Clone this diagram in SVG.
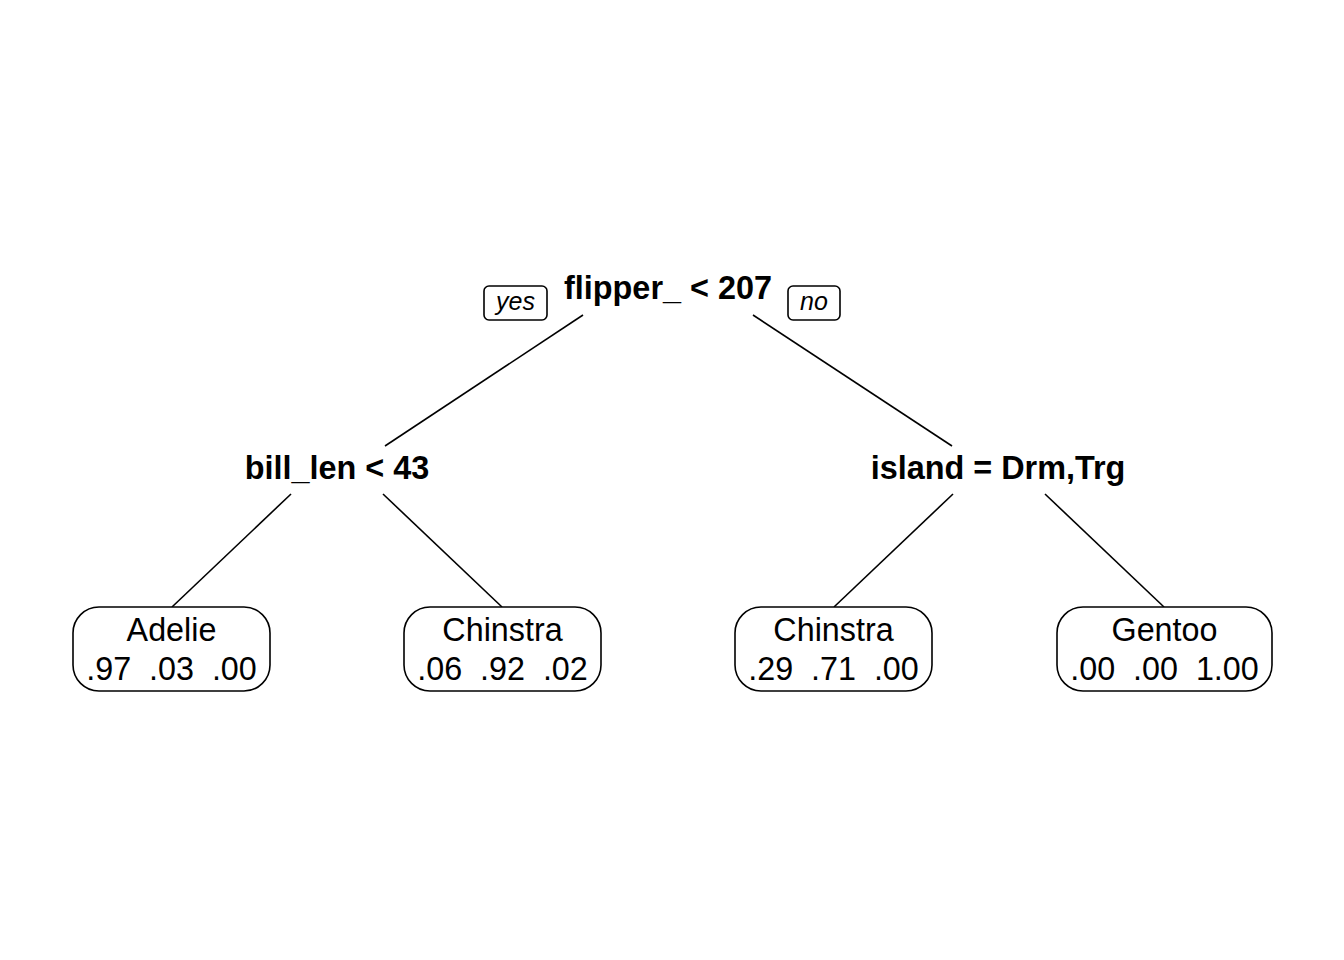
<svg xmlns="http://www.w3.org/2000/svg" width="1344" height="960" viewBox="0 0 1344 960">
<style>
.split{font-family:"Liberation Sans",Arial,sans-serif;font-weight:bold;font-size:32.4px;text-anchor:middle;fill:#000}
.leaf{font-family:"Liberation Sans",Arial,sans-serif;font-size:32.3px;text-anchor:middle;fill:#000;white-space:pre}
.lab{font-family:"Liberation Sans",Arial,sans-serif;font-style:italic;font-size:25px;text-anchor:middle;fill:#000}
.box{fill:#fff;stroke:#000;stroke-width:1.6}
.edge{stroke:#000;stroke-width:1.6;fill:none}
</style>
<rect width="1344" height="960" fill="#fff"/>
<g id="connectors">
<line class="edge" x1="583" y1="315" x2="385" y2="446"/>
<line class="edge" x1="753" y1="315" x2="952" y2="446"/>
<line class="edge" x1="291" y1="494" x2="172" y2="607"/>
<line class="edge" x1="383" y1="494" x2="502" y2="607"/>
<line class="edge" x1="953" y1="494" x2="834" y2="607"/>
<line class="edge" x1="1045" y1="494" x2="1164" y2="607"/>
</g>
<g id="root">
<text class="split" x="668" y="299">flipper_ &lt; 207</text>
<rect class="box" x="484" y="286" width="63" height="34" rx="5"/>
<text class="lab" x="515.5" y="310">yes</text>
<rect class="box" x="788" y="286" width="52" height="34" rx="5"/>
<text class="lab" x="814" y="310">no</text>
</g>
<g id="bill_len">
<text class="split" x="337" y="479">bill_len &lt; 43</text>
</g>
<g id="island">
<text class="split" x="998" y="479">island = Drm,Trg</text>
</g>
<g id="leaf_adelie">
<rect class="box" x="73" y="607" width="197" height="84" rx="26"/>
<text class="leaf" x="171.5" y="641">Adelie</text>
<text class="leaf" x="171.5" y="680" xml:space="preserve">.97  .03  .00</text>
</g>
<g id="leaf_chinstra1">
<rect class="box" x="404" y="607" width="197" height="84" rx="26"/>
<text class="leaf" x="502.5" y="641">Chinstra</text>
<text class="leaf" x="502.5" y="680" xml:space="preserve">.06  .92  .02</text>
</g>
<g id="leaf_chinstra2">
<rect class="box" x="735" y="607" width="197" height="84" rx="26"/>
<text class="leaf" x="833.5" y="641">Chinstra</text>
<text class="leaf" x="833.5" y="680" xml:space="preserve">.29  .71  .00</text>
</g>
<g id="leaf_gentoo">
<rect class="box" x="1057" y="607" width="215" height="84" rx="26"/>
<text class="leaf" x="1164.5" y="641">Gentoo</text>
<text class="leaf" x="1164.5" y="680" xml:space="preserve">.00  .00  1.00</text>
</g>
</svg>
